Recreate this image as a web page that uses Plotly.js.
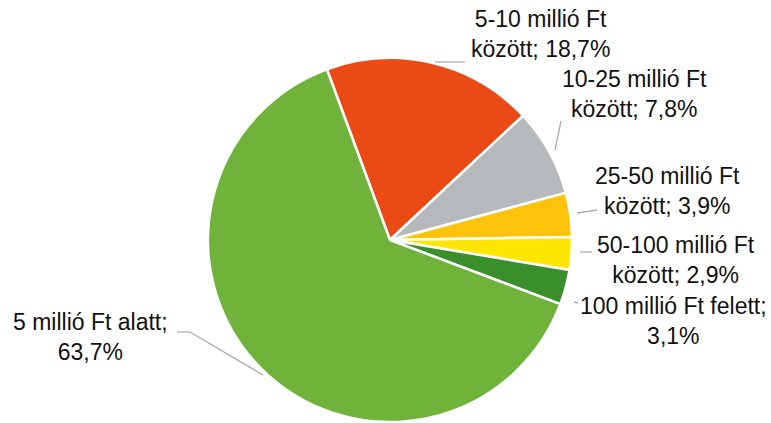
<!DOCTYPE html>
<html>
<head>
<meta charset="utf-8">
<script src="https://cdn.plot.ly/plotly-3.0.1.min.js"></script>
<style>html,body{margin:0;padding:0;background:#fff;}#chart{width:771px;height:423px;}</style>
</head>
<body>
<div id="chart"></div>
<script>
var categories = ["5-10 millió Ft között", "10-25 millió Ft között", "25-50 millió Ft között", "50-100 millió Ft között", "100 millió Ft felett", "5 millió Ft alatt"];
var values = [18.7, 7.8, 3.9, 2.9, 3.1, 63.7];
var labelTexts = ["5-10 millió Ft<br>között; 18,7%", "10-25 millió Ft<br>között; 7,8%", "25-50 millió Ft<br>között; 3,9%", "50-100 millió Ft<br>között; 2,9%", "100 millió Ft felett;<br>3,1%", "5 millió Ft alatt;<br>63,7%"];
var colors = ["#EC4A14", "#B6B9BC", "#FDC20A", "#FFE600", "#3A8F2C", "#6FB33A"];

var W = 771, H = 423;
function px(x) { return x / W; }
function py(y) { return 1 - y / H; }

var cx = 390, cy = 240, R = 182;

var labelPos = [[540, 34], [634, 94], [667, 191], [676, 260], [673, 321], [90, 337]];
var leaders = [
  [[435, 62], [465, 62]],
  [[555, 150], [561, 121]],
  [[577, 213], [597, 210]],
  [[580, 252], [592, 252]],
  [[574, 302], [578, 303]],
  [[263, 375], [190, 332], [177, 332]]
];

var annotations = labelTexts.map(function (t, i) {
  return {
    text: t, x: px(labelPos[i][0]), y: py(labelPos[i][1]), xref: "paper", yref: "paper",
    showarrow: false, xanchor: "center", yanchor: "middle", align: "center",
    font: { family: "Liberation Sans, Arial, sans-serif", size: 23, color: "#111" }
  };
});

var shapes = [];
leaders.forEach(function (pts) {
  for (var k = 0; k < pts.length - 1; k++) {
    shapes.push({
      type: "line", xref: "paper", yref: "paper",
      x0: px(pts[k][0]), y0: py(pts[k][1]), x1: px(pts[k + 1][0]), y1: py(pts[k + 1][1]),
      line: { color: "#A9AEB5", width: 1.3 }
    });
  }
});

var trace = {
  type: "pie",
  labels: categories,
  values: values,
  sort: false,
  direction: "clockwise",
  rotation: -20.3,
  textinfo: "none",
  hoverinfo: "label+percent",
  marker: { colors: colors, line: { color: "#ffffff", width: 2.5 } },
  domain: { x: [px(cx - R), px(cx + R)], y: [py(cy + R), py(cy - R)] },
  showlegend: false
};

var layout = {
  width: W, height: H,
  margin: { l: 0, r: 0, t: 0, b: 0 },
  paper_bgcolor: "#ffffff",
  plot_bgcolor: "#ffffff",
  showlegend: false,
  annotations: annotations,
  shapes: shapes
};

Plotly.newPlot("chart", [trace], layout, { displayModeBar: false, staticPlot: true });
</script>
</body>
</html>
